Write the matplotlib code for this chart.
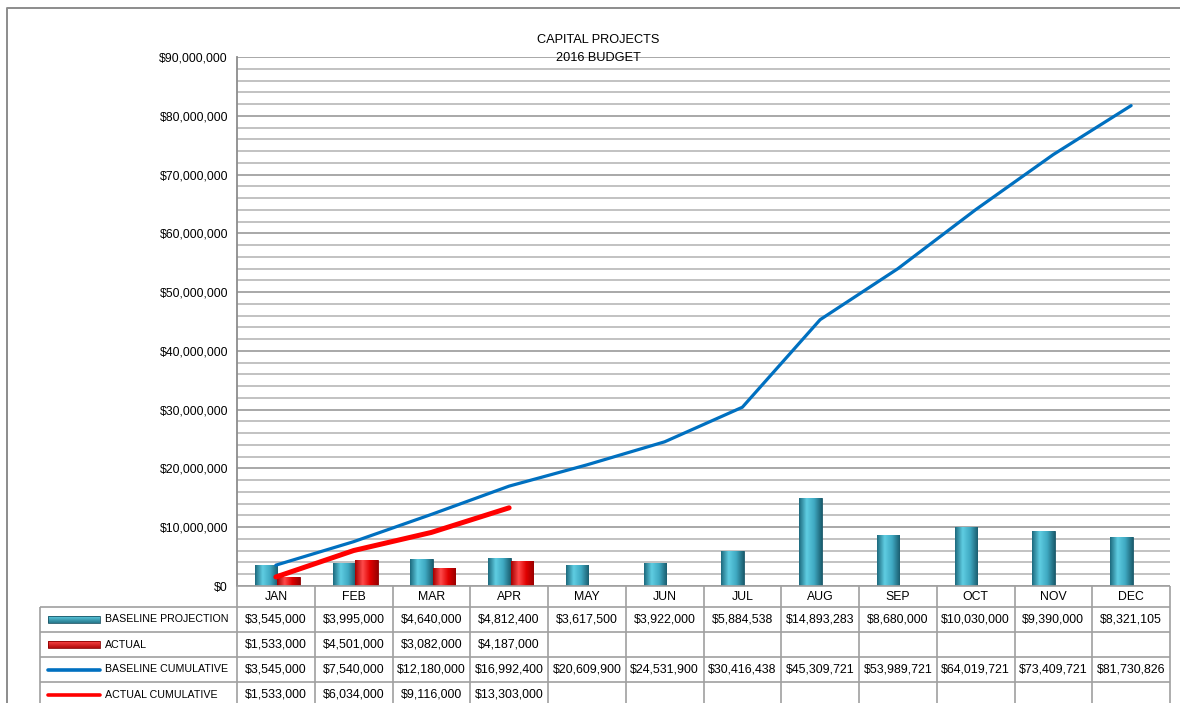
import numpy as np
import matplotlib
matplotlib.use('Agg')
import matplotlib.pyplot as plt
from matplotlib.colors import LinearSegmentedColormap
from matplotlib.patches import Rectangle
from matplotlib.ticker import FuncFormatter, MultipleLocator

plt.rcParams['font.family'] = ['Liberation Sans', 'DejaVu Sans']

# --- data ---------------------------------------------------------------
months = ['JAN', 'FEB', 'MAR', 'APR', 'MAY', 'JUN', 'JUL', 'AUG', 'SEP', 'OCT', 'NOV', 'DEC']
baseline = [3545000, 3995000, 4640000, 4812400, 3617500, 3922000,
            5884538, 14893283, 8680000, 10030000, 9390000, 8321105]
actual = [1533000, 4501000, 3082000, 4187000]
baseline_cum = [3545000, 7540000, 12180000, 16992400, 20609900, 24531900,
                30416438, 45309721, 53989721, 64019721, 73409721, 81730826]
actual_cum = [1533000, 6034000, 9116000, 13303000]
series_names = ['BASELINE PROJECTION', 'ACTUAL', 'BASELINE CUMULATIVE', 'ACTUAL CUMULATIVE']
table_rows = [baseline, actual, baseline_cum, actual_cum]

W, H = 1180, 703
L, R, T, B = 237, 1170, 57, 586          # plot area in pixels
GRID = '#b8b8b8'
BORDER = '#a0a0a0'
BLUE, RED = '#0070c0', '#ff0000'
teal_cmap = LinearSegmentedColormap.from_list('teal', ['#1d6a7e', '#5fcde2', '#3fa9c2', '#1b5e70'])
red_cmap = LinearSegmentedColormap.from_list('red', ['#a50000', '#ff4a4a', '#e00000', '#9a0000'])

fig = plt.figure(figsize=(W / 100, H / 100), dpi=100, facecolor='white')

# outer chart border
bg = fig.add_axes([0, 0, 1, 1], zorder=-5)
bg.set_xlim(0, W); bg.set_ylim(H, 0); bg.axis('off')
bg.plot([7, 7, W], [H, 8, 8], color='#8c8c8c', lw=1.4)

# --- chart ----------------------------------------------------------------
ax = fig.add_axes([L / W, 1 - B / H, (R - L) / W, (B - T) / H])
x = np.arange(len(months))


def shade(bars, cmap):
    grad = np.linspace(0, 1, 64)[None, :]
    for b in bars:
        x0, y0 = b.get_xy()
        im = ax.imshow(grad, extent=[x0, x0 + b.get_width(), y0, y0 + b.get_height()],
                       aspect='auto', cmap=cmap, zorder=b.zorder, interpolation='bilinear')
        im.set_clip_path(b)


b1 = ax.bar(x - 0.125, baseline, width=0.29, color='#3aa3bd', edgecolor='#1b5566', lw=0.6, zorder=2)
b2 = ax.bar(np.arange(len(actual)) + 0.165, actual, width=0.29, color='#e00000',
            edgecolor='#8a0000', lw=0.6, zorder=2)
shade(b1, teal_cmap)
shade(b2, red_cmap)
ax.plot(x, baseline_cum, color=BLUE, lw=2.3, zorder=4, solid_capstyle='round')
ax.plot(np.arange(len(actual_cum)), actual_cum, color=RED, lw=3.6, zorder=4, solid_capstyle='round')

ax.set_xlim(-0.5, 11.5)
ax.set_ylim(0, 90e6)
ax.yaxis.set_major_locator(MultipleLocator(10e6))
ax.yaxis.set_minor_locator(MultipleLocator(2e6))
ax.yaxis.set_major_formatter(FuncFormatter(lambda v, p: f'${v:,.0f}'))
ax.grid(axis='y', which='minor', color=GRID, lw=1.2, zorder=0)
ax.grid(axis='y', which='major', color='#9a9a9a', lw=1.2, zorder=0)
ax.set_axisbelow(True)
ax.set_xticks([])
ax.tick_params(axis='y', which='both', length=0, pad=6.5, labelsize=8.8, colors='black')
for s in ['top', 'right', 'bottom']:
    ax.spines[s].set_visible(False)
ax.spines['left'].set_color('#8c8c8c')
ax.spines['left'].set_linewidth(1.3)

fig.text(598 / W, 1 - 40 / H, 'CAPITAL PROJECTS', ha='center', va='center', fontsize=9.2)
fig.text(598 / W, 1 - 58 / H, '2016 BUDGET', ha='center', va='center', fontsize=9.2)

# --- data table -----------------------------------------------------------
tab = fig.add_axes([L / W, 0, (R - L) / W, (H - B) / H])
tab.set_xlim(-0.5, 11.5)
tab.set_ylim(H - B, 0)
tab.axis('off')
col = (R - L) / 12.0


def px(p):
    return -0.5 - (L - p) / col


row_edges = [0, 21, 46, 71, 96, 121]
left_x = px(40)
kw = dict(color=BORDER, lw=1.2, clip_on=False, solid_capstyle='butt')
tab.plot([-0.5, 11.5], [0, 0], **kw)
for y in row_edges[1:-1]:
    tab.plot([left_x, 11.5], [y, y], **kw)
for i in range(13):
    tab.plot([i - 0.5, i - 0.5], [0, row_edges[-1]], **kw)
tab.plot([left_x, left_x], [21, row_edges[-1]], **kw)

for i, m in enumerate(months):
    tab.text(i, 10.5, m, ha='center', va='center', fontsize=8.8)

for r, (name, vals) in enumerate(zip(series_names, table_rows)):
    yc = (row_edges[r + 1] + row_edges[r + 2]) / 2
    for i, v in enumerate(vals):
        tab.text(i, yc, f'${v:,.0f}', ha='center', va='center', fontsize=8.9, clip_on=False)
    tab.text(px(105), yc, name, ha='left', va='center', fontsize=7.7, clip_on=False)

# legend keys
k0, k1 = px(48), px(100)
for r, cmap, ec in [(0, teal_cmap, '#1b5566'), (1, red_cmap, '#8a0000')]:
    yc = (row_edges[r + 1] + row_edges[r + 2]) / 2
    rect = Rectangle((k0, yc - 3.5), k1 - k0, 7, facecolor='none', edgecolor=ec, lw=0.6, clip_on=False, zorder=3)
    tab.add_patch(rect)
    im = tab.imshow(np.linspace(0, 1, 64)[:, None], extent=[k0, k1, yc + 3.5, yc - 3.5],
                    aspect='auto', cmap=LinearSegmentedColormap.from_list('k', [cmap(0.35), cmap(0.05)]),
                    zorder=2, clip_on=False)
    im.set_clip_path(rect)
for r, c in [(2, BLUE), (3, RED)]:
    yc = (row_edges[r + 1] + row_edges[r + 2]) / 2
    tab.plot([k0, k1], [yc, yc], color=c, lw=2.6, clip_on=False, solid_capstyle='round')
tab.set_xlim(-0.5, 11.5)
tab.set_ylim(H - B, 0)

fig.savefig('out.png', dpi=100, facecolor='white')
